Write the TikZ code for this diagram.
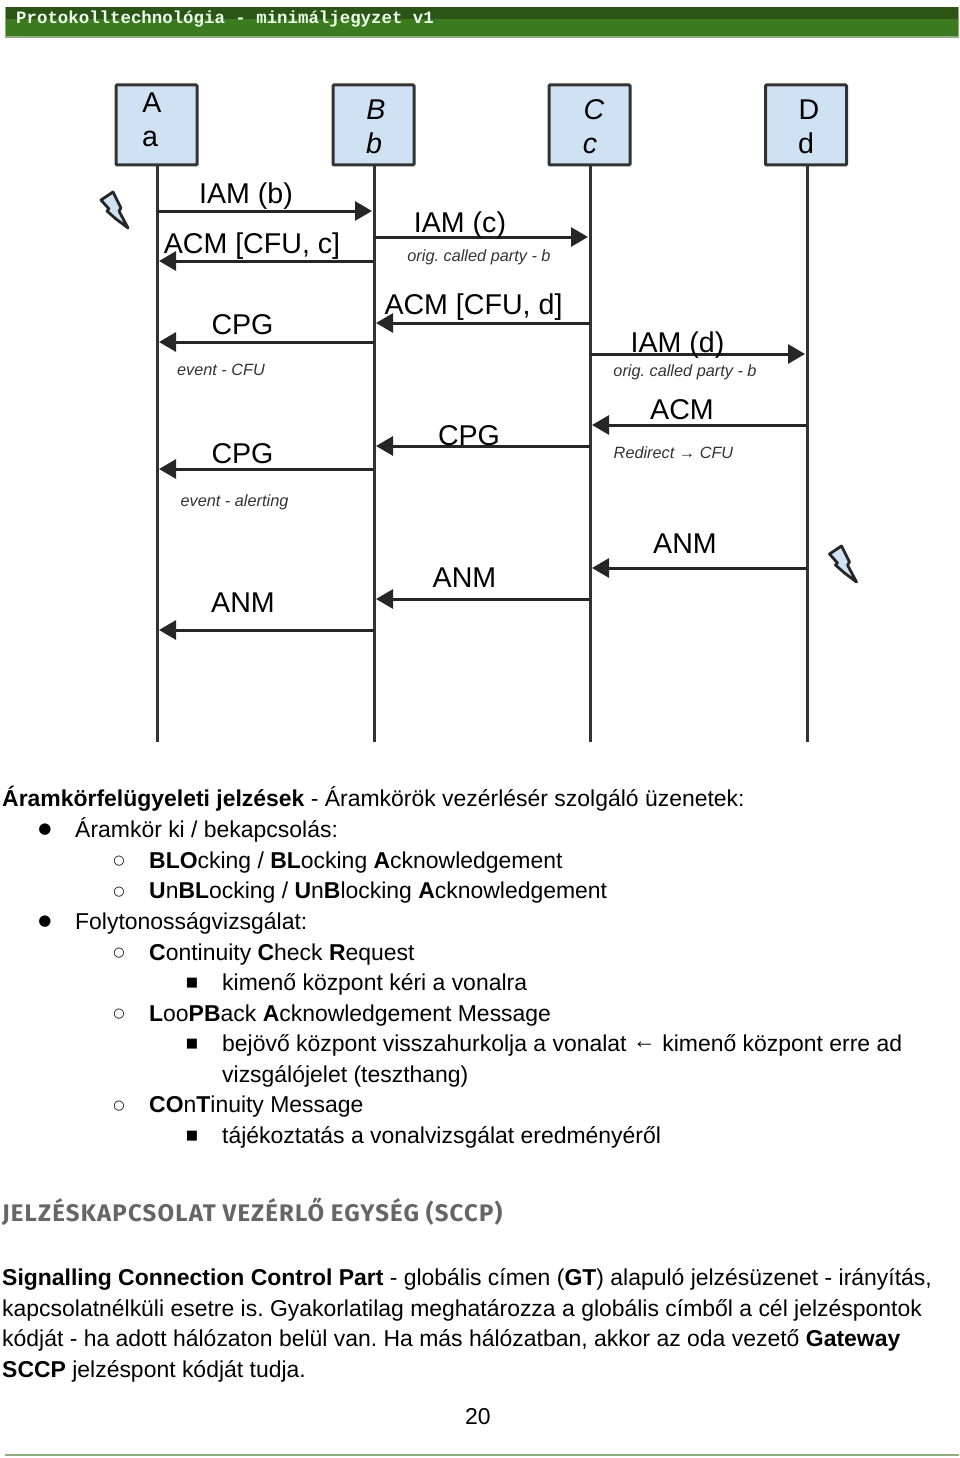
\documentclass[tikz,border=0pt]{standalone}
\usepackage{fontspec}
\setmainfont{Liberation Sans}
\newfontfamily\headfont{Liberation Mono}
\newfontfamily\titlefont[LetterSpace=4.8]{Fira Sans}
\newfontfamily\symfont{DejaVu Sans}
\usetikzlibrary{arrows.meta}
\definecolor{boxblue}{HTML}{CFE2F3}
\definecolor{linedark}{HTML}{333333}
\definecolor{banddark}{HTML}{2B5416}
\definecolor{bandlight}{HTML}{3C7A20}
\definecolor{footline}{HTML}{8FAD7F}
\tikzset{
  hostbox/.style={draw=linedark,line width=3pt,fill=boxblue,rounded corners=1pt,minimum width=81pt,minimum height=80pt,inner sep=0pt},
  lifeline/.style={draw=linedark,line width=3pt},
  msg/.style={draw=black!85,line width=3pt,-{Triangle[length=17pt,width=19pt]},shorten >=2pt},
  msglabel/.style={anchor=base,inner sep=0pt,font=\fontsize{28.6}{28.6}\selectfont},
  msgnote/.style={anchor=base,inner sep=0pt,text=black!80,font=\fontsize{16.3}{16.3}\selectfont\itshape\frenchspacing},
  bodytext/.style={anchor=base west,inner sep=0pt,font=\fontsize{22.95}{22.95}\selectfont\frenchspacing},
  bodymark/.style={anchor=center,inner sep=0pt},
  bolt/.pic={\draw[draw=black!85,fill=boxblue,line width=2.8pt,line join=round] (0,0) -- (-12,8) -- (-4,17) -- (-6,19) -- (3,27) -- (15,36) -- (6,19) -- (8,16) -- cycle;}
}
\begin{document}
\begin{tikzpicture}[x=1pt,y=-1pt]
\useasboundingbox (0,0) rectangle (960,1458);
% page band
\fill[footline] (5,7) rectangle (959,38);
\fill[banddark] (5.5,7.5) rectangle (958,19);
\fill[bandlight] (5.5,19) rectangle (958,36.5);
\node[anchor=base west,inner sep=0pt,text=white!92!green,font=\fontsize{17.4}{17.4}\selectfont\headfont\bfseries] (bandtitle) at (16,23.5) {Protokolltechnológia - minimáljegyzet v1};
% hosts
\node[hostbox] (boxa) at (156.5,125) {};
\node[hostbox] (boxb) at (373.5,125) {};
\node[hostbox] (boxc) at (589.5,125) {};
\node[hostbox] (boxd) at (806,125) {};
\node[msglabel] (texta1) at (152,113) {A};
\node[msglabel] (texta2) at (150,147) {a};
\node[msglabel] (textb1) at (376,120) {\itshape B};
\node[msglabel] (textb2) at (374,154) {\itshape b};
\node[msglabel] (textc1) at (594,120) {\itshape C};
\node[msglabel] (textc2) at (590,154) {\itshape c};
\node[msglabel] (textd1) at (809,120) {D};
\node[msglabel] (textd2) at (806,154) {d};
% lifelines
\coordinate (enda) at (157,742);
\coordinate (endb) at (374,742);
\coordinate (endc) at (590,742);
\coordinate (endd) at (807,742);
\draw[lifeline] (boxa.south -| enda) -- (enda);
\draw[lifeline] (boxb.south -| endb) -- (endb);
\draw[lifeline] (boxc.south -| endc) -- (endc);
\draw[lifeline] (boxd.south -| endd) -- (endd);
% messages
\coordinate (a1) at (157,211); \coordinate (b1) at (374,211);
\draw[msg] (a1) -- (b1);
\node[msglabel] (iamb) at (246,204) {IAM (b)};
\coordinate (b2) at (374,237); \coordinate (c2) at (590,237);
\draw[msg] (b2) -- (c2);
\node[msglabel] (iamc) at (460,233) {IAM (c)};
\node[msgnote] (origc) at (479,261) {orig. called party - b};
\coordinate (b3) at (374,261); \coordinate (a3) at (157,261);
\draw[msg] (b3) -- (a3);
\node[msglabel] (acmc) at (252,253) {ACM [CFU, c]};
\coordinate (c4) at (590,323); \coordinate (b4) at (374,323);
\draw[msg] (c4) -- (b4);
\node[msglabel] (acmd) at (473.5,314) {ACM [CFU, d]};
\coordinate (b5) at (374,342); \coordinate (a5) at (157,342);
\draw[msg] (b5) -- (a5);
\node[msglabel] (cpga) at (242.5,334) {CPG};
\node[msgnote] (eventcfu) at (221,375) {event - CFU};
\coordinate (c6) at (590,354); \coordinate (d6) at (807,354);
\draw[msg] (c6) -- (d6);
\node[msglabel] (iamd) at (677.5,352) {IAM (d)};
\node[msgnote] (origd) at (685,376) {orig. called party - b};
\coordinate (d7) at (807,425); \coordinate (c7) at (590,425);
\draw[msg] (d7) -- (c7);
\node[msglabel] (acmplain) at (682,419) {ACM};
\node[msgnote] (redirect) at (673.5,458) {Redirect → CFU};
\coordinate (c8) at (590,446); \coordinate (b8) at (374,446);
\draw[msg] (c8) -- (b8);
\node[msglabel] (cpgb) at (469,445) {CPG};
\coordinate (b9) at (374,469); \coordinate (a9) at (157,469);
\draw[msg] (b9) -- (a9);
\node[msglabel] (cpgc) at (242.5,463) {CPG};
\node[msgnote] (eventalert) at (234.5,506) {event - alerting};
\coordinate (d10) at (807,568); \coordinate (c10) at (590,568);
\draw[msg] (d10) -- (c10);
\node[msglabel] (anmc) at (685,553) {ANM};
\coordinate (c11) at (590,599); \coordinate (b11) at (374,599);
\draw[msg] (c11) -- (b11);
\node[msglabel] (anmb) at (464.5,587) {ANM};
\coordinate (b12) at (374,630); \coordinate (a12) at (157,630);
\draw[msg] (b12) -- (a12);
\node[msglabel] (anma) at (243,612) {ANM};
% release marks
\pic at (113,192) {bolt};
\pic at (841.5,546) {bolt};
% notes below
\node[bodytext] (line1) at (2,806.5) {\textbf{Áramkörfelügyeleti jelzések} - Áramkörök vezérlésér szolgáló üzenetek:};
\node[bodymark,font=\fontsize{15}{15}\selectfont\symfont] (dot1) at (45,830) {●};
\node[bodytext] (line2) at (75,837) {Áramkör ki / bekapcsolás:};
\node[bodymark,font=\fontsize{13}{13}\selectfont\symfont] (ring1) at (119,861.5) {○};
\node[bodytext] (line3) at (149,868) {\textbf{BLO}cking / \textbf{BL}ocking \textbf{A}cknowledgement};
\node[bodymark,font=\fontsize{13}{13}\selectfont\symfont] (ring2) at (119,892) {○};
\node[bodytext] (line4) at (149,898.5) {\textbf{U}n\textbf{BL}ocking / \textbf{U}n\textbf{B}locking \textbf{A}cknowledgement};
\node[bodymark,font=\fontsize{15}{15}\selectfont\symfont] (dot2) at (45,922) {●};
\node[bodytext] (line5) at (75,929) {Folytonosságvizsgálat:};
\node[bodymark,font=\fontsize{13}{13}\selectfont\symfont] (ring3) at (119,953.5) {○};
\node[bodytext] (line6) at (149,960) {\textbf{C}ontinuity \textbf{C}heck \textbf{R}equest};
\node[bodymark,font=\fontsize{13}{13}\selectfont\symfont] (square1) at (192,983) {■};
\node[bodytext] (line7) at (222,990) {kimenő központ kéri a vonalra};
\node[bodymark,font=\fontsize{13}{13}\selectfont\symfont] (ring4) at (119,1014.5) {○};
\node[bodytext] (line8) at (149,1021) {\textbf{L}oo\textbf{PB}ack \textbf{A}cknowledgement Message};
\node[bodymark,font=\fontsize{13}{13}\selectfont\symfont] (square2) at (192,1044) {■};
\node[bodytext] (line9) at (222,1051) {bejövő központ visszahurkolja a vonalat \raisebox{2.5pt}{←} kimenő központ erre ad};
\node[bodytext] (line10) at (222,1082) {vizsgálójelet (teszthang)};
\node[bodymark,font=\fontsize{13}{13}\selectfont\symfont] (ring5) at (119,1106) {○};
\node[bodytext] (line11) at (149,1112) {\textbf{CO}n\textbf{T}inuity Message};
\node[bodymark,font=\fontsize{13}{13}\selectfont\symfont] (square3) at (192,1136) {■};
\node[bodytext] (line12) at (222,1143) {tájékoztatás a vonalvizsgálat eredményéről};
\node[anchor=base west,inner sep=0pt,text=black!60,font=\fontsize{24}{24}\selectfont\titlefont\bfseries] (sccptitle) at (2,1221) {JELZÉSKAPCSOLAT VEZÉRLŐ EGYSÉG (SCCP)};
\node[bodytext] (para1) at (2,1285) {\textbf{Signalling Connection Control Part} - globális címen (\textbf{GT}) alapuló jelzésüzenet - irányítás,};
\node[bodytext] (para2) at (2,1316) {kapcsolatnélküli esetre is. Gyakorlatilag meghatározza a globális címből a cél jelzéspontok};
\node[bodytext] (para3) at (2,1346) {kódját - ha adott hálózaton belül van. Ha más hálózatban, akkor az oda vezető \textbf{Gateway}};
\node[bodytext] (para4) at (2,1377) {\textbf{SCCP} jelzéspont kódját tudja.};
\node[bodytext] (pagenum) at (465,1424) {20};
\fill[footline] (5,1453.5) rectangle (959,1455.5);
\end{tikzpicture}
\end{document}
